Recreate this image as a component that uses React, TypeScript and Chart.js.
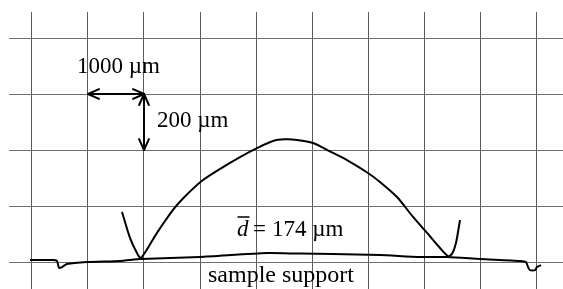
import React, { useEffect, useRef } from "react";
import { Chart, registerables } from "chart.js";

Chart.register(...registerables);

// Profile of the sample support (x in µm, height in µm)
const supportX = [-36, 375, 446, 482, 536, 625, 982, 1571, 1946, 3000, 4196, 4786, 5375, 6214, 6929, 7429, 8000, 8714, 8821, 8857, 8893, 8982, 9018, 9089];
const supportY = [7, 7, 4, -21, -18, -7, 0, 4, 11, 18, 32, 30, 29, 25, 18, 18, 11, 4, 0, -18, -29, -29, -18, -11];

// Profile of the sample (dome)
const sampleX = [1607, 1750, 1875, 1946, 2232, 2518, 2696, 3036, 3411, 3714, 4018, 4304, 4518, 4732, 5018, 5321, 5625, 6000, 6214, 6518, 6804, 7054, 7286, 7429, 7500, 7571, 7643];
const sampleY = [179, 86, 32, 14, 104, 186, 227, 290, 339, 375, 407, 432, 438, 436, 425, 395, 364, 318, 286, 232, 161, 104, 50, 21, 29, 68, 150];

// Grid tick values
const xGrid = [0, 1000, 2000, 3000, 4000, 5000, 6000, 7000, 8000, 9000];
const yGrid = [0, 200, 400, 600, 800];

// Axis ranges
const X_MIN = -410.7;
const X_MAX = 9482.1;
const Y_MIN = -96.4;
const Y_MAX = 892.9;

// Scale-bar arrows: [x1, y1, x2, y2]
const arrows = [
  [1000, 600, 2000, 600],
  [2000, 600, 2000, 400],
];

// Text labels: [text, x, y, align]
const labels: [string, number, number, string][] = [
  ["1000 µm", 1545, 675, "center"],
  ["200 µm", 2232, 482, "left"],
  ["sample support", 3143, -71, "left"],
];
const dLabel = { x: 3661, y: 93, value: "174" };

const overlay = {
  id: "overlay",
  afterDatasetsDraw(chart: any) {
    const ctx = chart.ctx as CanvasRenderingContext2D;
    const xs = chart.scales.x;
    const ys = chart.scales.y;
    ctx.save();
    ctx.strokeStyle = "#000";
    ctx.fillStyle = "#000";
    ctx.lineWidth = 2;
    ctx.lineCap = "round";
    ctx.lineJoin = "round";
    for (const [x1, y1, x2, y2] of arrows) {
      const p1x = xs.getPixelForValue(x1);
      const p1y = ys.getPixelForValue(y1);
      const p2x = xs.getPixelForValue(x2);
      const p2y = ys.getPixelForValue(y2);
      ctx.beginPath();
      ctx.moveTo(p1x, p1y);
      ctx.lineTo(p2x, p2y);
      ctx.stroke();
      const ang = Math.atan2(p2y - p1y, p2x - p1x);
      const L = 12;
      const W = 0.42;
      for (const [tx, ty, a] of [
        [p2x, p2y, ang + Math.PI],
        [p1x, p1y, ang],
      ]) {
        ctx.beginPath();
        ctx.moveTo(tx + L * Math.cos(a + W), ty + L * Math.sin(a + W));
        ctx.lineTo(tx, ty);
        ctx.lineTo(tx + L * Math.cos(a - W), ty + L * Math.sin(a - W));
        ctx.stroke();
      }
    }
    ctx.textBaseline = "alphabetic";
    for (const [t, x, y, al] of labels) {
      ctx.font = t === "sample support" ? "24px 'Liberation Serif'" : "23px 'Liberation Serif'";
      ctx.textAlign = al as CanvasTextAlign;
      ctx.fillText(t, xs.getPixelForValue(x), ys.getPixelForValue(y));
    }
    // d-bar label
    const dx = xs.getPixelForValue(dLabel.x);
    const dy = ys.getPixelForValue(dLabel.y);
    ctx.textAlign = "left";
    ctx.font = "italic 23px 'Liberation Serif'";
    ctx.fillText("d", dx, dy);
    ctx.lineWidth = 1.5;
    ctx.beginPath();
    ctx.moveTo(dx + 1, dy - 19);
    ctx.lineTo(dx + 12, dy - 19);
    ctx.stroke();
    ctx.font = "23px 'Liberation Serif'";
    ctx.fillText("=", dx + 16, dy);
    ctx.fillText(dLabel.value + " µm", dx + 35, dy);
    ctx.restore();
  },
};

export default function App() {
  const ref = useRef<HTMLCanvasElement | null>(null);
  useEffect(() => {
    if (!ref.current) return;
    const toPts = (xs: number[], ys: number[]) => xs.map((x, i) => ({ x, y: ys[i] }));
    const chart = new Chart(ref.current, {
      type: "line",
      data: {
        datasets: [
          {
            label: "sample support",
            data: toPts(supportX, supportY),
            borderColor: "#000",
            borderWidth: 2,
            pointRadius: 0,
            tension: 0.2,
          },
          {
            label: "sample",
            data: toPts(sampleX, sampleY),
            borderColor: "#000",
            borderWidth: 2,
            pointRadius: 0,
            tension: 0.25,
          },
        ],
      },
      options: {
        animation: false,
        responsive: false,
        layout: { padding: { left: 9, top: 12, right: 0, bottom: 0 } },
        plugins: { legend: { display: false }, tooltip: { enabled: false } },
        scales: {
          x: {
            type: "linear",
            min: X_MIN,
            max: X_MAX,
            ticks: { display: false },
            border: { display: false },
            grid: { color: "#5c5c5c", lineWidth: 1, drawTicks: false },
            afterBuildTicks: (s: any) => {
              s.ticks = xGrid.map((v) => ({ value: v }));
            },
          },
          y: {
            type: "linear",
            min: Y_MIN,
            max: Y_MAX,
            ticks: { display: false },
            border: { display: false },
            grid: { color: "#6e6e6e", lineWidth: 1, drawTicks: false },
            afterBuildTicks: (s: any) => {
              s.ticks = yGrid.map((v) => ({ value: v }));
            },
          },
        },
      },
      plugins: [overlay],
    });
    return () => chart.destroy();
  }, []);
  return (
    <div style={{ position: "fixed", left: 0, top: 0, width: 563, height: 289, background: "#fff" }}>
      <canvas ref={ref} width={563} height={289} />
    </div>
  );
}
